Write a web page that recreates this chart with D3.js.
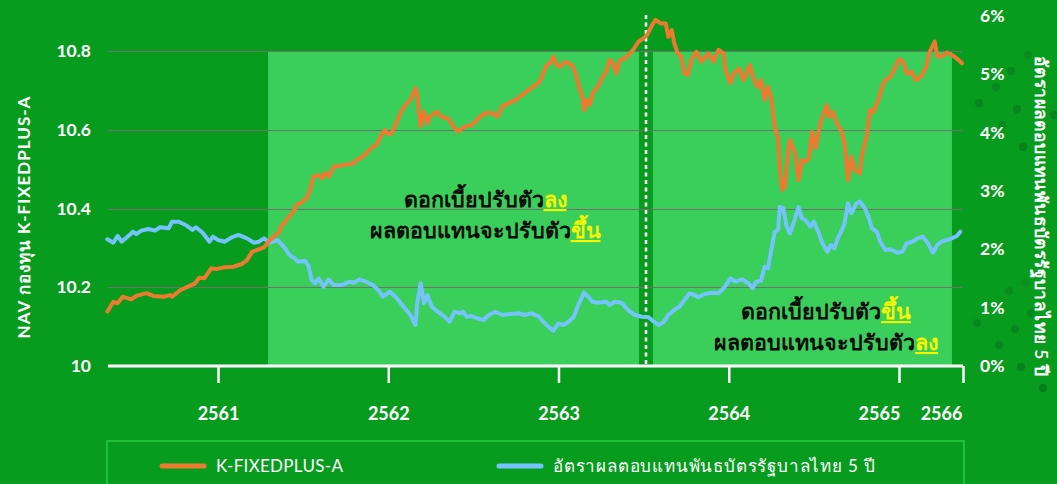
<!DOCTYPE html>
<html>
<head>
<meta charset="utf-8">
<script src="https://cdn.jsdelivr.net/npm/d3@7"></script>
<style>
  html, body { margin: 0; padding: 0; background: #089C1F; }
  svg { display: block; }
  text { font-family: "Lato", "Noto Sans", "DejaVu Sans", sans-serif; }
</style>
</head>
<body>
<svg id="chart" width="1057" height="484"></svg>
<script>
// ---------------- DATA ----------------
// time in Buddhist-era decimal years
const navT = [2560.35,2560.385,2560.41,2560.44,2560.49,2560.52,2560.58,2560.62,2560.68,2560.72,2560.73,2560.78,2560.83,2560.865,2560.89,2560.92,2560.96,2560.99,2561.04,2561.09,2561.14,2561.17,2561.20,2561.23,2561.27,2561.305,2561.36,2561.37,2561.41,2561.45,2561.46,2561.49,2561.52,2561.54,2561.56,2561.59,2561.61,2561.63,2561.65,2561.68,2561.73,2561.775,2561.795,2561.815,2561.85,2561.88,2561.91,2561.93,2561.96,2561.98,2562.00,2562.02,2562.05,2562.08,2562.11,2562.13,2562.16,2562.17,2562.19,2562.21,2562.23,2562.245,2562.285,2562.31,2562.35,2562.39,2562.41,2562.45,2562.49,2562.54,2562.57,2562.61,2562.64,2562.67,2562.705,2562.75,2562.80,2562.85,2562.89,2562.93,2562.95,2562.97,2562.99,2563.01,2563.04,2563.08,2563.10,2563.12,2563.14,2563.15,2563.17,2563.185,2563.20,2563.23,2563.26,2563.28,2563.30,2563.32,2563.34,2563.36,2563.39,2563.42,2563.43,2563.47,2563.50,2563.52,2563.55,2563.57,2563.60,2563.63,2563.645,2563.665,2563.68,2563.70,2563.72,2563.74,2563.76,2563.78,2563.81,2563.84,2563.88,2563.91,2563.94,2563.97,2563.98,2564.01,2564.03,2564.06,2564.085,2564.125,2564.14,2564.17,2564.19,2564.21,2564.23,2564.25,2564.27,2564.29,2564.30,2564.315,2564.33,2564.35,2564.36,2564.39,2564.41,2564.43,2564.45,2564.47,2564.49,2564.51,2564.54,2564.555,2564.575,2564.59,2564.61,2564.64,2564.66,2564.68,2564.70,2564.72,2564.74,2564.77,2564.78,2564.81,2564.83,2564.85,2564.88,2564.90,2564.92,2564.95,2564.98,2565.00,2565.025,2565.045,2565.075,2565.10,2565.13,2565.16,2565.18,2565.21,2565.225,2565.25,2565.28,2565.31,2565.34,2565.37];
const navV = [10.138,10.163,10.159,10.176,10.169,10.178,10.185,10.178,10.176,10.180,10.176,10.193,10.203,10.210,10.224,10.223,10.248,10.246,10.251,10.252,10.259,10.269,10.290,10.295,10.301,10.320,10.341,10.354,10.375,10.396,10.409,10.415,10.426,10.447,10.481,10.485,10.477,10.491,10.481,10.506,10.510,10.513,10.515,10.523,10.532,10.544,10.557,10.561,10.587,10.599,10.589,10.591,10.620,10.650,10.667,10.676,10.705,10.688,10.608,10.646,10.616,10.633,10.646,10.633,10.629,10.604,10.595,10.608,10.612,10.633,10.642,10.643,10.633,10.659,10.667,10.676,10.693,10.709,10.722,10.764,10.769,10.786,10.764,10.760,10.773,10.764,10.743,10.709,10.684,10.650,10.676,10.663,10.693,10.709,10.735,10.747,10.777,10.769,10.743,10.777,10.781,10.794,10.798,10.824,10.832,10.841,10.866,10.879,10.870,10.870,10.836,10.853,10.820,10.794,10.786,10.743,10.739,10.777,10.798,10.773,10.794,10.773,10.803,10.794,10.752,10.718,10.743,10.756,10.726,10.764,10.735,10.709,10.726,10.676,10.709,10.680,10.608,10.578,10.498,10.447,10.455,10.549,10.574,10.540,10.472,10.523,10.519,10.527,10.595,10.553,10.620,10.637,10.663,10.633,10.646,10.612,10.599,10.566,10.472,10.532,10.498,10.489,10.532,10.582,10.650,10.646,10.676,10.709,10.726,10.735,10.760,10.779,10.773,10.743,10.747,10.726,10.735,10.760,10.798,10.824,10.786,10.786,10.796,10.790,10.781,10.769];

const yieldT = [2560.35,2560.385,2560.41,2560.434,2560.48,2560.50,2560.52,2560.55,2560.59,2560.63,2560.66,2560.71,2560.73,2560.77,2560.81,2560.85,2560.87,2560.91,2560.95,2560.97,2561.00,2561.04,2561.08,2561.12,2561.17,2561.21,2561.24,2561.27,2561.305,2561.35,2561.39,2561.42,2561.45,2561.47,2561.51,2561.53,2561.55,2561.57,2561.59,2561.62,2561.65,2561.68,2561.73,2561.77,2561.80,2561.83,2561.87,2561.91,2561.94,2561.97,2562.01,2562.05,2562.09,2562.13,2562.16,2562.17,2562.19,2562.21,2562.23,2562.255,2562.29,2562.33,2562.36,2562.39,2562.42,2562.44,2562.46,2562.49,2562.52,2562.56,2562.59,2562.63,2562.67,2562.715,2562.77,2562.80,2562.84,2562.88,2562.91,2562.94,2562.97,2563.00,2563.03,2563.06,2563.09,2563.12,2563.15,2563.175,2563.20,2563.23,2563.28,2563.30,2563.33,2563.37,2563.40,2563.42,2563.45,2563.49,2563.53,2563.56,2563.59,2563.62,2563.645,2563.68,2563.71,2563.74,2563.77,2563.80,2563.82,2563.86,2563.90,2563.94,2563.97,2564.01,2564.04,2564.08,2564.12,2564.14,2564.16,2564.19,2564.21,2564.23,2564.25,2564.27,2564.29,2564.30,2564.32,2564.34,2564.36,2564.38,2564.41,2564.43,2564.45,2564.48,2564.50,2564.53,2564.55,2564.58,2564.60,2564.62,2564.64,2564.66,2564.68,2564.70,2564.72,2564.75,2564.77,2564.80,2564.82,2564.84,2564.87,2564.89,2564.92,2564.95,2564.99,2565.02,2565.045,2565.08,2565.11,2565.14,2565.17,2565.20,2565.225,2565.25,2565.28,2565.31,2565.34,2565.36];
const yieldV = [2.172,2.114,2.229,2.131,2.246,2.302,2.263,2.320,2.349,2.320,2.378,2.361,2.474,2.474,2.417,2.332,2.378,2.285,2.131,2.217,2.160,2.131,2.206,2.246,2.189,2.114,2.131,2.189,2.114,2.160,2.035,1.903,1.846,1.788,1.805,1.732,1.474,1.418,1.504,1.359,1.486,1.389,1.389,1.445,1.428,1.486,1.445,1.389,1.303,1.188,1.274,1.161,1.017,0.874,0.703,1.075,1.418,1.075,1.217,1.017,0.931,0.845,0.760,0.931,0.903,0.931,0.845,0.857,0.818,0.789,0.874,0.931,0.874,0.891,0.903,0.874,0.903,0.857,0.760,0.674,0.605,0.732,0.703,0.760,0.845,1.075,1.257,1.188,1.102,1.085,1.102,1.046,1.102,1.085,0.989,0.931,0.874,0.845,0.835,0.760,0.703,0.760,0.874,0.960,1.017,1.131,1.246,1.217,1.178,1.234,1.257,1.246,1.332,1.504,1.445,1.486,1.406,1.332,1.445,1.462,1.702,1.675,1.989,2.302,2.332,2.731,2.704,2.388,2.275,2.446,2.721,2.532,2.503,2.388,2.474,2.275,2.104,1.960,2.074,2.018,2.189,2.302,2.446,2.789,2.618,2.789,2.817,2.704,2.560,2.361,2.302,2.131,1.989,2.001,1.942,1.960,2.104,2.131,2.189,2.217,2.104,1.942,2.074,2.131,2.160,2.189,2.229,2.302];

const xTickValues = [2561, 2562, 2563, 2564, 2565, 2565.376];
const xTickLabels = ["2561", "2562", "2563", "2564", "2565", "2566"];
const leftTicks = [10, 10.2, 10.4, 10.6, 10.8];
const leftTickLabels = ["10", "10.2", "10.4", "10.6", "10.8"];
const rightTicks = [0, 1, 2, 3, 4, 5, 6];
const rightTickLabels = ["0%", "1%", "2%", "3%", "4%", "5%", "6%"];

// shaded periods (start, end in BE years) and the event marker
const periodStart = [2561.294, 2563.555];
const periodEnd = [2563.473, 2565.311];
const markerT = 2563.514;

const seriesNames = ["K-FIXEDPLUS-A", "อัตราผลตอบแทนพันธบัตรรัฐบาลไทย 5 ปี"];
const leftTitle = "NAV กองทุน K-FIXEDPLUS-A";
const rightTitle = "อัตราผลตอบแทนพันธบัตรรัฐบาลไทย 5 ปี";
const noteA = [["ดอกเบี้ยปรับตัว", "ลง"], ["ผลตอบแทนจะปรับตัว", "ขึ้น"]];
const noteB = [["ดอกเบี้ยปรับตัว", "ขึ้น"], ["ผลตอบแทนจะปรับตัว", "ลง"]];

// ---------------- STYLE ----------------
const C = {
  bg: "#089C1F", light: "#3ACF5A", grid: "#707070", orange: "#EE7A32",
  blue: "#74C3FC", white: "#FFFFFF", yellow: "#F6F600", legendBorder: "#1FC03A",
  dot: "#05761A"
};

const svg = d3.select("#chart");
const W = 1057, H = 484;
const x = d3.scaleLinear().domain([2560.342, 2565.376]).range([106, 963]);
const yL = d3.scaleLinear().domain([10, 10.8889]).range([366, 16]);
const yR = d3.scaleLinear().domain([0, 6]).range([366, 16]);

svg.append("rect").attr("width", W).attr("height", H).attr("fill", C.bg);

// decorative dots (right side)
const deco = [[1028,55,.35],[1011,71,.5],[996,87,.45],[979,103,.55],[1017,109,.6],[1054,115,.6],[1002,125,.5],[1023,147,.7],[1009,291,.35],[1031,313,.45],[977,323,.45],[1015,329,.55],[999,345,.6],[1021,367,.7],[1043,388,.8],[1025,283,.25]];
svg.append("g").selectAll("circle").data(deco).join("circle")
  .attr("cx", d => d[0]).attr("cy", d => d[1]).attr("r", 4.2)
  .attr("fill", C.dot).attr("opacity", d => d[2]);

// shaded periods
svg.append("g").selectAll("rect").data(periodStart).join("rect")
  .attr("x", (d, i) => x(d))
  .attr("width", (d, i) => x(periodEnd[i]) - x(d))
  .attr("y", yL(10.8)).attr("height", yL(10) - yL(10.8))
  .attr("fill", C.light);

// gridlines
svg.append("g").selectAll("line").data(leftTicks.slice(1)).join("line")
  .attr("x1", 108).attr("x2", 962)
  .attr("y1", d => Math.round(yL(d)) + 0.5).attr("y2", d => Math.round(yL(d)) + 0.5)
  .attr("stroke", C.grid).attr("stroke-width", 1);

// event marker
svg.append("line")
  .attr("x1", x(markerT)).attr("x2", x(markerT))
  .attr("y1", 15).attr("y2", yL(10))
  .attr("stroke", C.white).attr("stroke-width", 2.5).attr("stroke-dasharray", "4,3.5");

// series
const lineL = d3.line().x((d, i) => x(navT[i])).y(d => yL(d));
const lineR = d3.line().x((d, i) => x(yieldT[i])).y(d => yR(d));
svg.append("path").datum(yieldV).attr("d", lineR)
  .attr("fill", "none").attr("stroke", C.blue).attr("stroke-width", 4)
  .attr("stroke-linejoin", "round").attr("stroke-linecap", "round");
svg.append("path").datum(navV).attr("d", lineL)
  .attr("fill", "none").attr("stroke", C.orange).attr("stroke-width", 4)
  .attr("stroke-linejoin", "round").attr("stroke-linecap", "round");

// x axis
const xLabelShift = [0, 0, 0, 0, -20, -22];
const xAxis = d3.axisBottom(x).tickValues(xTickValues)
  .tickFormat((d, i) => xTickLabels[i]).tickSize(17).tickPadding(24);
const gx = svg.append("g").attr("transform", `translate(0,${yL(10)})`).call(xAxis);
gx.select(".domain").attr("stroke", C.white).attr("stroke-width", 3).attr("d", `M108,0H963`);
gx.selectAll(".tick line").attr("stroke", C.white).attr("stroke-width", 2.5);
gx.selectAll(".tick text").attr("fill", C.white).attr("font-size", 18).attr("font-weight", 700)
  .attr("dx", (d, i) => xLabelShift[i]);

// left axis
const yAxisL = d3.axisLeft(yL).tickValues(leftTicks).tickFormat((d, i) => leftTickLabels[i]).tickSize(0).tickPadding(0);
const gl = svg.append("g").attr("transform", "translate(91,0)").call(yAxisL);
gl.select(".domain").remove();
gl.selectAll(".tick text").attr("fill", C.white).attr("font-size", 17.5).attr("font-weight", 700);

// right axis
const yAxisR = d3.axisRight(yR).tickValues(rightTicks).tickFormat((d, i) => rightTickLabels[i]).tickSize(0).tickPadding(0);
const gr = svg.append("g").attr("transform", "translate(980,0)").call(yAxisR);
gr.select(".domain").remove();
gr.selectAll(".tick text").attr("fill", C.white).attr("font-size", 17.5).attr("font-weight", 700);

// axis titles
svg.append("text").attr("transform", "translate(30,217) rotate(-90)")
  .attr("text-anchor", "middle").attr("fill", C.white).attr("font-size", 17).attr("font-weight", 700)
  .attr("letter-spacing", 1)
  .text(leftTitle);
svg.append("text").attr("transform", "translate(1035,216) rotate(90)")
  .attr("text-anchor", "middle").attr("fill", C.white).attr("font-size", 17.5).attr("font-weight", 600)
  .attr("letter-spacing", 0.4)
  .text(rightTitle);

// annotations
function note(lines, cx, y0) {
  lines.forEach((ln, i) => {
    const t = svg.append("text").attr("x", cx).attr("y", y0 + i * 31)
      .attr("text-anchor", "middle").attr("font-size", 21.5).attr("font-weight", 600).attr("fill", "#0a0a0a");
    t.append("tspan").text(ln[0]);
    t.append("tspan").attr("fill", C.yellow).attr("text-decoration", "underline").text(ln[1]);
  });
}
note(noteA, 485, 207);
note(noteB, 826, 319);

// legend
svg.append("rect").attr("x", 107).attr("y", 441).attr("width", 857).attr("height", 60)
  .attr("fill", "none").attr("stroke", C.legendBorder).attr("stroke-width", 2);
const legX = [162, 499];
const legC = [C.orange, C.blue];
const legSpacing = [0.3, 0.8];
const lg = svg.append("g").selectAll("g").data(seriesNames).join("g")
  .attr("transform", (d, i) => `translate(${legX[i]},466)`);
lg.append("line").attr("x1", 0).attr("x2", 42).attr("stroke", (d, i) => legC[i])
  .attr("stroke-width", 5).attr("stroke-linecap", "round");
lg.append("text").attr("x", 54).attr("dy", "0.35em").attr("fill", C.white)
  .attr("font-size", 17).attr("letter-spacing", (d, i) => legSpacing[i]).text(d => d);
</script>
</body>
</html>
